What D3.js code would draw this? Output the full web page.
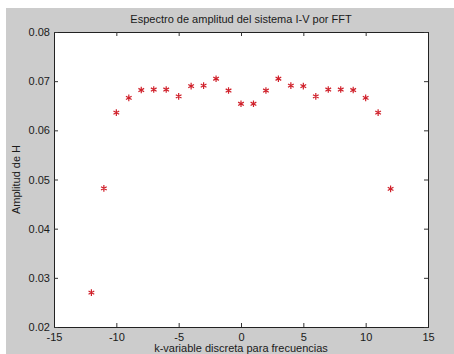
<!DOCTYPE html>
<html>
<head>
<meta charset="utf-8">
<script src="https://cdn.jsdelivr.net/npm/d3@7"></script>
<style>
  body { margin: 0; background: #fff; }
  svg text { font-family: "Liberation Sans", Arial, sans-serif; fill: #1a1a1a; }
</style>
</head>
<body>
<svg id="area" width="454" height="354"></svg>
<script>
// k values and FFT amplitude
const kVals = [-12,-11,-10,-9,-8,-7,-6,-5,-4,-3,-2,-1,0,1,2,3,4,5,6,7,8,9,10,11,12];
const ampVals = [0.0270,0.0482,0.0636,0.0666,0.0682,0.0683,0.0683,0.0669,0.0690,0.0691,0.0705,0.0681,
  0.0654,0.0654,0.0681,0.0705,0.0691,0.0690,0.0669,0.0683,0.0683,0.0682,0.0666,0.0636,0.0481];
const xTicks = [-15,-10,-5,0,5,10,15];
const yTicks = [0.02,0.03,0.04,0.05,0.06,0.07,0.08];

const svg = d3.select("#area");
const pLeft = 54, pRight = 428, pTop = 32, pBottom = 327;

// grey figure background
svg.append("rect").attr("x",6).attr("y",8).attr("width",448).attr("height",346).attr("fill","#cccccc");
svg.append("rect").attr("x",pLeft).attr("y",pTop).attr("width",pRight-pLeft).attr("height",pBottom-pTop).attr("fill","#fff");

const x = d3.scaleLinear().domain([-15,15]).range([pLeft,pRight]);
const y = d3.scaleLinear().domain([0.02,0.08]).range([pBottom,pTop]);

const tk = 4;
const fmtY = d => d.toFixed(2);

svg.append("g").attr("transform","translate(0,"+pBottom+")")
  .call(d3.axisBottom(x).tickValues(xTicks).tickSize(-tk).tickPadding(6).tickFormat(d => String(d)));
svg.append("g").attr("transform","translate(0,"+pTop+")")
  .call(d3.axisTop(x).tickValues(xTicks).tickSize(-tk).tickFormat(""));
svg.append("g").attr("transform","translate("+pLeft+",0)")
  .call(d3.axisLeft(y).tickValues(yTicks).tickSize(-tk).tickPadding(4).tickFormat(fmtY));
svg.append("g").attr("transform","translate("+pRight+",0)")
  .call(d3.axisRight(y).tickValues(yTicks).tickSize(-tk).tickFormat(""));

svg.selectAll(".domain").attr("stroke","#222");
svg.selectAll(".tick line").attr("stroke","#333");
svg.selectAll(".tick text").style("font-size","11px").attr("fill","#1a1a1a");

// red asterisk markers
const star = d3.symbol().type(d3.symbolAsterisk).size(30);
svg.append("g").selectAll("path")
  .data(kVals)
  .join("path")
  .attr("transform",(d,i) => "translate("+x(d)+","+y(ampVals[i])+")")
  .attr("d",star)
  .attr("stroke","#d0202a")
  .attr("stroke-width",1.2)
  .attr("fill","none");

svg.append("text").attr("x",(pLeft+pRight)/2).attr("y",23).attr("text-anchor","middle")
  .style("font-size","11px").text("Espectro de amplitud del sistema I-V por FFT");
svg.append("text").attr("x",(pLeft+pRight)/2).attr("y",352).attr("text-anchor","middle")
  .style("font-size","11px").text("k-variable discreta para frecuencias");
svg.append("text").attr("transform","translate(20,"+((pTop+pBottom)/2)+") rotate(-90)")
  .attr("text-anchor","middle").style("font-size","11px").text("Amplitud de H");
</script>
</body>
</html>
